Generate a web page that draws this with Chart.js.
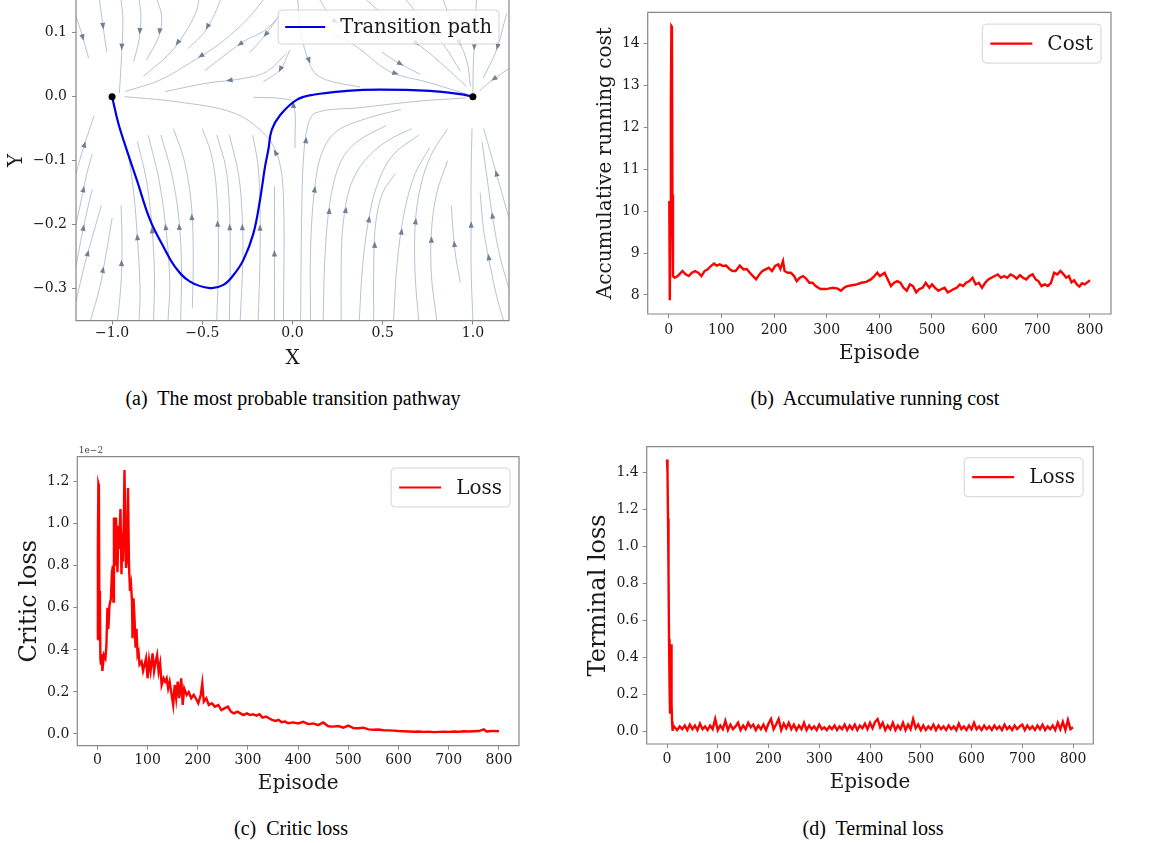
<!DOCTYPE html>
<html>
<head>
<meta charset="utf-8">
<script src="https://cdn.jsdelivr.net/npm/chart.js@4.4.0/dist/chart.umd.min.js"></script>
<style>
  body { margin: 0; background: #fff; width: 1151px; height: 843px; position: relative; overflow: hidden; }
  canvas { position: absolute; }
  .cap { position: absolute; font-family: "Liberation Serif", "Times New Roman", serif; font-size: 20px;
         line-height: 20px; white-space: pre; transform: translateX(-50%); color: #000; }
</style>
</head>
<body>
<canvas id="pathChart" width="530" height="395" style="left:0;top:-20px"></canvas>
<canvas id="costChart" width="561" height="375" style="left:590px;top:0"></canvas>
<canvas id="criticChart" width="560" height="375" style="left:0;top:430px"></canvas>
<canvas id="terminalChart" width="571" height="375" style="left:580px;top:430px"></canvas>

<div class="cap" style="left:293px;top:388px">(a)  The most probable transition pathway</div>
<div class="cap" style="left:875px;top:388px">(b)  Accumulative running cost</div>
<div class="cap" style="left:291px;top:818px">(c)  Critic loss</div>
<div class="cap" style="left:873px;top:818px">(d)  Terminal loss</div>

<script>
// ---- (a) transition path over the streamlines of the drift field ----
const pathX = [-1.000, -0.965, -0.919, -0.863, -0.789, -0.716, -0.651, -0.568, -0.457, -0.383, -0.328,
               -0.272, -0.217, -0.180, -0.152, -0.134, -0.115, -0.069, 0.023, 0.115, 0.300, 0.485,
               0.762, 0.928, 1.000];
const pathY = [0.000, -0.042, -0.083, -0.130, -0.193, -0.234, -0.266, -0.289, -0.299, -0.294, -0.279,
               -0.255, -0.214, -0.161, -0.109, -0.083, -0.052, -0.029, -0.005, 0.003, 0.009, 0.011,
               0.009, 0.004, 0.000];
const stateX = [-1, 1];
const stateY = [0, 0];

// streamlines, each ordered along the flow
const streamlines = [
  [[-1.20,-0.12],[-1.17,-0.09],[-1.13,-0.055],[-1.10,-0.03]],
  [[-1.20,-0.20],[-1.17,-0.16],[-1.14,-0.12],[-1.11,-0.09]],
  [[-1.20,-0.265],[-1.17,-0.22],[-1.14,-0.18],[-1.11,-0.145]],
  [[-1.20,-0.32],[-1.15,-0.26],[-1.10,-0.21],[-1.06,-0.17]],
  [[-1.12,-0.35],[-1.07,-0.30],[-1.03,-0.24],[-1.00,-0.19]],
  [[-0.97,-0.35],[-0.95,-0.29],[-0.945,-0.23],[-0.95,-0.17]],
  [[-0.85,-0.35],[-0.845,-0.30],[-0.86,-0.22],[-0.88,-0.15],[-0.91,-0.09]],
  [[-0.77,-0.35],[-0.765,-0.28],[-0.78,-0.20],[-0.81,-0.13],[-0.86,-0.07]],
  [[-0.69,-0.35],[-0.68,-0.29],[-0.70,-0.21],[-0.74,-0.13],[-0.80,-0.06]],
  [[-0.62,-0.35],[-0.615,-0.27],[-0.63,-0.19],[-0.67,-0.12],[-0.73,-0.06]],
  [[-0.555,-0.33],[-0.55,-0.25],[-0.56,-0.17],[-0.60,-0.10],[-0.66,-0.05]],
  [[-0.42,-0.35],[-0.41,-0.25],[-0.42,-0.15],[-0.45,-0.09],[-0.50,-0.05]],
  [[-0.35,-0.35],[-0.345,-0.25],[-0.35,-0.17],[-0.37,-0.11],[-0.42,-0.06]],
  [[-0.29,-0.35],[-0.275,-0.25],[-0.28,-0.18],[-0.30,-0.12],[-0.35,-0.06]],
  [[-0.19,-0.35],[-0.18,-0.25],[-0.18,-0.17],[-0.19,-0.11],[-0.22,-0.06]],
  [[-0.10,-0.35],[-0.10,-0.24],[-0.10,-0.14]],
  [[-0.05,-0.35],[-0.05,-0.16],[-0.08,-0.094],[-0.16,-0.057],[-0.33,-0.025],[-0.64,-0.008],[-0.93,0.0]],
  [[0.014,-0.08],[0.005,-0.01],[-0.06,-0.003],[-0.217,-0.001]],
  [[0.045,-0.35],[0.05,-0.2],[0.06,-0.1],[0.085,-0.045],[0.13,-0.025],[0.38,-0.017],[0.70,-0.007],[0.96,-0.002]],
  [[0.10,-0.35],[0.10,-0.24],[0.12,-0.15],[0.16,-0.09],[0.24,-0.055],[0.40,-0.035],[0.60,-0.02]],
  [[0.17,-0.35],[0.18,-0.25],[0.21,-0.16],[0.27,-0.10],[0.36,-0.07],[0.52,-0.045]],
  [[0.27,-0.35],[0.27,-0.26],[0.28,-0.20],[0.32,-0.14],[0.40,-0.10],[0.52,-0.07],[0.66,-0.05]],
  [[0.37,-0.35],[0.39,-0.26],[0.43,-0.18],[0.48,-0.13],[0.56,-0.09],[0.70,-0.06]],
  [[0.45,-0.35],[0.45,-0.27],[0.46,-0.20],[0.50,-0.15],[0.57,-0.12]],
  [[0.56,-0.35],[0.58,-0.26],[0.62,-0.18],[0.68,-0.12],[0.76,-0.08]],
  [[0.70,-0.35],[0.68,-0.28],[0.68,-0.20],[0.71,-0.14],[0.77,-0.09],[0.86,-0.05]],
  [[0.80,-0.35],[0.77,-0.28],[0.77,-0.21],[0.80,-0.15],[0.86,-0.10]],
  [[0.93,-0.29],[0.90,-0.24],[0.88,-0.17]],
  [[1.00,-0.35],[0.99,-0.27],[0.99,-0.20],[0.99,-0.12],[0.995,-0.05]],
  [[1.20,-0.19],[1.15,-0.14],[1.10,-0.09],[1.06,-0.05]],
  [[1.20,-0.30],[1.15,-0.25],[1.11,-0.19],[1.08,-0.13],[1.05,-0.07]],
  [[1.17,-0.35],[1.13,-0.31],[1.10,-0.27],[1.06,-0.21],[1.04,-0.15]],
  [[-1.20,0.125],[-1.17,0.10],[-1.13,0.06]],
  [[-1.07,0.151],[-1.055,0.12],[-1.04,0.09],[-1.03,0.07]],
  [[-0.95,0.151],[-0.94,0.12],[-0.95,0.05],[-0.96,0.005]],
  [[-0.85,0.151],[-0.84,0.125],[-0.85,0.09],[-0.88,0.055]],
  [[-0.75,0.151],[-0.725,0.125],[-0.74,0.095],[-0.81,0.057]],
  [[-0.52,0.151],[-0.531,0.135],[-0.586,0.104],[-0.679,0.068],[-0.826,0.032]],
  [[-0.40,0.151],[-0.43,0.13],[-0.49,0.10],[-0.58,0.075]],
  [[-0.162,0.151],[-0.254,0.12],[-0.402,0.083],[-0.549,0.056],[-0.734,0.026],[-0.928,0.008]],
  [[-0.032,0.068],[-0.143,0.039],[-0.282,0.028],[-0.476,0.021],[-0.706,0.008]],
  [[-0.088,0.12],[-0.162,0.102],[-0.272,0.086],[-0.485,0.041]],
  [[-0.069,0.13],[-0.143,0.099],[-0.239,0.068]],
  [[-0.014,0.073],[-0.069,0.042],[-0.162,0.023]],
  [[0.03,0.151],[0.04,0.11],[0.069,0.073],[0.115,0.04],[0.189,0.026],[0.374,0.015]],
  [[0.152,0.151],[0.226,0.12],[0.356,0.094]],
  [[0.226,0.099],[0.356,0.078],[0.54,0.039],[0.743,0.023],[0.965,0.004]],
  [[0.494,0.07],[0.568,0.056],[0.706,0.035]],
  [[0.411,0.151],[0.596,0.104],[0.78,0.063],[0.965,0.016]],
  [[0.63,0.151],[0.72,0.12],[0.84,0.08],[0.93,0.04]],
  [[0.836,0.151],[0.891,0.109],[0.965,0.057],[0.987,0.016]],
  [[1.02,0.151],[1.011,0.099],[1.002,0.047],[1.0,0.005]],
  [[1.187,0.13],[1.131,0.073],[1.057,0.029]],
  [[1.20,0.044],[1.113,0.027],[1.039,0.01]]
];
const pathTicksX = [-1.0, -0.5, 0.0, 0.5, 1.0];
const pathTicksY = [-0.3, -0.2, -0.1, 0.0, 0.1];

// ---- (b) accumulative running cost ----
const costEpisode = [0, 1, 2, 3, 4, 5, 6, 7, 8, 11, 17, 26, 32, 38, 44, 50, 56, 62, 68, 74, 80, 86, 91, 97,
  103, 109, 115, 121, 127, 135, 142, 148, 154, 160, 166, 172, 178, 184, 190, 196, 202, 208, 212, 217,
  220, 226, 232, 238, 243, 249, 255, 261, 267, 273, 279, 288, 297, 303, 312, 321, 327, 333, 339, 348,
  357, 366, 375, 384, 390, 396, 401, 410, 416, 422, 428, 434, 440, 446, 452, 458, 464, 470, 476, 482,
  488, 495, 500, 506, 512, 518, 524, 530, 536, 541, 547, 553, 559, 565, 571, 577, 583, 589, 595, 601,
  607, 613, 619, 625, 631, 637, 643, 649, 655, 661, 667, 673, 679, 685, 691, 697, 702, 708, 714, 720,
  726, 732, 738, 744, 750, 755, 760, 765, 770, 775, 780, 785, 790, 795, 800];
const cost = [10.24, 10.22, 7.87, 9.6, 12.6, 14.42, 14.4, 10.4, 8.45, 8.41, 8.45, 8.57, 8.49, 8.45, 8.53,
  8.57, 8.53, 8.45, 8.57, 8.61, 8.69, 8.75, 8.70, 8.73, 8.69, 8.70, 8.62, 8.57, 8.57, 8.70, 8.61, 8.62,
  8.53, 8.45, 8.37, 8.49, 8.57, 8.61, 8.65, 8.57, 8.69, 8.73, 8.62, 8.81, 8.57, 8.53, 8.53, 8.45, 8.33,
  8.41, 8.45, 8.39, 8.29, 8.29, 8.21, 8.14, 8.14, 8.15, 8.17, 8.15, 8.10, 8.17, 8.21, 8.23, 8.25, 8.29,
  8.31, 8.37, 8.44, 8.53, 8.45, 8.53, 8.37, 8.21, 8.29, 8.33, 8.29, 8.17, 8.10, 8.25, 8.21, 8.06, 8.14,
  8.17, 8.29, 8.17, 8.25, 8.17, 8.10, 8.14, 8.17, 8.06, 8.10, 8.14, 8.17, 8.25, 8.21, 8.29, 8.33, 8.41,
  8.25, 8.29, 8.17, 8.29, 8.37, 8.41, 8.45, 8.49, 8.41, 8.45, 8.41, 8.49, 8.45, 8.39, 8.47, 8.41, 8.37,
  8.45, 8.49, 8.37, 8.33, 8.21, 8.25, 8.21, 8.29, 8.53, 8.49, 8.57, 8.49, 8.41, 8.45, 8.30, 8.35, 8.25,
  8.20, 8.28, 8.25, 8.30, 8.35];
const costTicksY = [8, 9, 10, 11, 12, 13, 14];

// ---- (c) critic loss, in units of 1e-2 ----
const criticEpisode = [0, 1, 2, 3, 4, 5, 6, 7, 8, 9, 10, 13, 16, 18, 20, 22, 24, 27, 29, 31, 32, 33, 35,
  37, 38, 40, 42, 43, 46, 48, 50, 51, 53, 54, 56, 57, 59, 61, 63, 65, 67, 69, 70, 72, 74, 76, 78, 80,
  82, 84, 88, 91, 94, 97, 100, 103, 106, 110, 113, 116, 119, 122, 125, 128, 132, 135, 138, 141, 144,
  148, 151, 154, 157, 160, 163, 167, 170, 173, 178, 182, 187, 192, 196, 201, 206, 209, 212, 217, 222,
  228, 234, 241, 247, 253, 260, 266, 272, 279, 285, 291, 298, 304, 310, 317, 323, 329, 336, 342, 348,
  355, 361, 367, 374, 380, 390, 400, 410, 420, 430, 440, 450, 460, 470, 480, 490, 500, 510, 520, 530,
  540, 550, 560, 570, 580, 590, 600, 610, 620, 630, 640, 650, 660, 670, 680, 690, 700, 710, 720, 730,
  740, 750, 760, 770, 775, 780, 790, 800];
const criticLoss = [0.45, 0.90, 1.19, 1.18, 0.55, 0.68, 0.36, 0.33, 0.38, 0.34, 0.30, 0.376, 0.36, 0.42,
  0.60, 0.50, 0.61, 0.645, 0.77, 0.80, 0.63, 1.03, 0.80, 1.03, 0.96, 0.77, 0.99, 0.88, 1.07, 0.76, 0.96,
  0.82, 1.06, 1.256, 0.915, 0.79, 0.836, 1.17, 0.80, 0.68, 0.71, 0.63, 0.455, 0.645, 0.55, 0.41, 0.50,
  0.376, 0.39, 0.33, 0.344, 0.30, 0.33, 0.36, 0.265, 0.352, 0.30, 0.384, 0.30, 0.344, 0.376, 0.297,
  0.336, 0.233, 0.265, 0.249, 0.265, 0.217, 0.249, 0.186, 0.138, 0.233, 0.17, 0.249, 0.17, 0.265, 0.138,
  0.217, 0.186, 0.20, 0.17, 0.186, 0.17, 0.146, 0.186, 0.241, 0.154, 0.17, 0.138, 0.146, 0.13, 0.138,
  0.114, 0.122, 0.13, 0.106, 0.098, 0.106, 0.098, 0.09, 0.098, 0.09, 0.094, 0.087, 0.094, 0.078, 0.083,
  0.075, 0.067, 0.062, 0.067, 0.056, 0.059, 0.051, 0.055, 0.050, 0.058, 0.047, 0.050, 0.042, 0.055,
  0.037, 0.035, 0.038, 0.030, 0.040, 0.028, 0.027, 0.030, 0.022, 0.020, 0.021, 0.018, 0.017, 0.016,
  0.014, 0.013, 0.012, 0.011, 0.012, 0.010, 0.011, 0.009, 0.010, 0.011, 0.010, 0.012, 0.011, 0.013,
  0.012, 0.013, 0.014, 0.022, 0.012, 0.013, 0.015, 0.013];
const criticTicksY = [0.0, 0.2, 0.4, 0.6, 0.8, 1.0, 1.2];

// ---- (d) terminal loss ----
const terminalEpisode = [0, 1, 2, 3, 4, 5, 6, 7, 8, 9, 10, 11, 12, 15, 20, 25, 30, 35, 40, 45, 50, 55, 60,
  65, 70, 75, 80, 85, 90, 95, 100, 105, 110, 115, 120, 125, 130, 135, 140, 145, 150, 155, 160, 165,
  170, 175, 180, 185, 190, 195, 200, 205, 210, 215, 220, 225, 230, 235, 240, 245, 250, 255, 260, 265,
  270, 275, 280, 285, 290, 295, 300, 305, 310, 315, 320, 325, 330, 335, 340, 345, 350, 355, 360, 365,
  370, 375, 380, 385, 390, 395, 400, 405, 410, 415, 420, 425, 430, 435, 440, 445, 450, 455, 460, 465,
  470, 475, 480, 485, 490, 495, 500, 505, 510, 515, 520, 525, 530, 535, 540, 545, 550, 555, 560, 565,
  570, 575, 580, 585, 590, 595, 600, 605, 610, 615, 620, 625, 630, 635, 640, 645, 650, 655, 660, 665,
  670, 675, 680, 685, 690, 695, 700, 705, 710, 715, 720, 725, 730, 735, 740, 745, 750, 755, 760, 765,
  770, 775, 780, 785, 790, 795, 800];
const terminalLoss = [1.47, 1.40, 1.15, 0.85, 0.50, 0.25, 0.10, 0.12, 0.47, 0.15, 0.05, 0.0, 0.03,
  0.02, 0.005, 0.025, 0.01, 0.03, 0.005, 0.035, 0.01, 0.03, 0.005, 0.04, 0.01, 0.025, 0.005, 0.03, 0.01,
  0.065, 0.005, 0.03, 0.01, 0.055, 0.005, 0.035, 0.01, 0.025, 0.045, 0.005, 0.03, 0.01, 0.045, 0.02,
  0.035, 0.005, 0.03, 0.01, 0.035, 0.005, 0.04, 0.065, 0.01, 0.035, 0.065, 0.005, 0.04, 0.015, 0.045,
  0.01, 0.035, 0.005, 0.03, 0.01, 0.045, 0.005, 0.03, 0.01, 0.025, 0.005, 0.035, 0.01, 0.02, 0.005,
  0.025, 0.01, 0.03, 0.005, 0.025, 0.01, 0.035, 0.005, 0.03, 0.01, 0.035, 0.005, 0.03, 0.015, 0.04,
  0.01, 0.045, 0.015, 0.05, 0.065, 0.02, 0.045, 0.005, 0.03, 0.01, 0.045, 0.005, 0.03, 0.01, 0.045,
  0.005, 0.035, 0.01, 0.065, 0.015, 0.035, 0.005, 0.03, 0.005, 0.025, 0.01, 0.035, 0.005, 0.03, 0.01,
  0.025, 0.005, 0.03, 0.01, 0.025, 0.005, 0.04, 0.01, 0.025, 0.005, 0.03, 0.01, 0.045, 0.01, 0.025,
  0.005, 0.03, 0.01, 0.025, 0.005, 0.03, 0.01, 0.025, 0.005, 0.035, 0.01, 0.025, 0.005, 0.03, 0.01,
  0.025, 0.035, 0.005, 0.03, 0.01, 0.025, 0.005, 0.03, 0.01, 0.035, 0.005, 0.025, 0.01, 0.03, 0.005,
  0.045, 0.01, 0.05, 0.005, 0.06, 0.01, 0.02];
const terminalTicksY = [0.0, 0.2, 0.4, 0.6, 0.8, 1.0, 1.2, 1.4];

const episodeTicks = [0, 100, 200, 300, 400, 500, 600, 700, 800];

// ---- shared styling ----
const INK = '#1a1a1a';
const SPINE = '#888888';
const SERIF = '"DejaVu Serif", serif';

function fmt(v, d) {
  const s = Math.abs(v).toFixed(d);
  return (v < -1e-9 ? '\u2212' : '') + s;
}

function axis(pos, min, max, tickVals, decimals, title, titleSize, titlePad, thick, tickPad) {
  const left = pos === 'left';
  return {
    type: 'linear', position: pos, min: min, max: max,
    afterBuildTicks: a => { a.ticks = tickVals.map(v => ({ value: v })); },
    afterFit: a => { if (left) a.width = thick; else a.height = thick; },
    grid: { drawOnChartArea: false, drawTicks: true, tickLength: 4, color: SPINE, lineWidth: 1 },
    border: { display: false },
    ticks: { font: { family: SERIF, size: 14 }, color: INK, padding: tickPad, autoSkip: false,
             maxRotation: 0, callback: v => fmt(v, decimals) },
    title: { display: true, text: title, color: INK, font: { family: SERIF, size: titleSize },
             padding: left ? { top: titlePad } : { bottom: titlePad } }
  };
}

function framePlugin(hideTop) {
  return {
    id: 'frame',
    afterDatasetsDraw(chart) {
      const { ctx, chartArea: a } = chart;
      ctx.save();
      ctx.strokeStyle = SPINE;
      ctx.lineWidth = 1.2;
      ctx.beginPath();
      if (hideTop) {
        ctx.moveTo(a.left, a.top); ctx.lineTo(a.left, a.bottom);
        ctx.lineTo(a.right, a.bottom); ctx.lineTo(a.right, a.top);
      } else {
        ctx.rect(a.left, a.top, a.right - a.left, a.bottom - a.top);
      }
      ctx.stroke();
      ctx.restore();
    }
  };
}

// boxed legend in the upper right corner of the plot area
function legendPlugin(text, color, lg) {
  return {
    id: 'boxLegend',
    afterDraw(chart) {
      const { ctx, chartArea: a } = chart;
      ctx.save();
      ctx.font = lg.size + 'px ' + SERIF;
      const tw = ctx.measureText(text).width;
      const w = lg.pad + lg.line + lg.gap + tw + lg.pad;
      const x0 = a.right - lg.right - w, y0 = a.top + lg.top, h = lg.h;
      ctx.beginPath();
      ctx.roundRect(x0, y0, w, h, 4);
      ctx.fillStyle = 'rgba(255,255,255,0.8)';
      ctx.fill();
      ctx.strokeStyle = '#d4d4d4';
      ctx.lineWidth = 1;
      ctx.stroke();
      ctx.beginPath();
      ctx.moveTo(x0 + lg.pad, y0 + h / 2);
      ctx.lineTo(x0 + lg.pad + lg.line, y0 + h / 2);
      ctx.strokeStyle = color;
      ctx.lineWidth = 2.2;
      ctx.stroke();
      ctx.fillStyle = INK;
      ctx.textBaseline = 'middle';
      ctx.fillText(text, x0 + lg.pad + lg.line + lg.gap, y0 + h / 2 + 1);
      ctx.restore();
    }
  };
}

// arrow head at the middle of each streamline, pointing along the flow
const arrowPlugin = {
  id: 'streamArrows',
  afterDatasetDraw(chart, args) {
    const ds = chart.data.datasets[args.index];
    if (!ds.stream) return;
    const pts = args.meta.data.map(p => [p.x, p.y]);
    let total = 0;
    const seg = [];
    for (let i = 1; i < pts.length; i++) {
      const l = Math.hypot(pts[i][0] - pts[i - 1][0], pts[i][1] - pts[i - 1][1]);
      seg.push(l); total += l;
    }
    let half = total / 2, i = 0;
    while (i < seg.length - 1 && half > seg[i]) { half -= seg[i]; i++; }
    const t = seg[i] ? half / seg[i] : 0;
    const [xa, ya] = pts[i], [xb, yb] = pts[i + 1];
    const cx = xa + (xb - xa) * t, cy = ya + (yb - ya) * t;
    const ang = Math.atan2(yb - ya, xb - xa);
    const { ctx } = chart;
    ctx.save();
    ctx.translate(cx, cy);
    ctx.rotate(ang);
    ctx.beginPath();
    ctx.moveTo(3.5, 0);
    ctx.lineTo(-3, 2.6);
    ctx.lineTo(-3, -2.6);
    ctx.closePath();
    ctx.fillStyle = '#6e8096';
    ctx.fill();
    ctx.restore();
  }
};

function baseOptions(pad, scales) {
  return {
    responsive: false, animation: false, devicePixelRatio: 1,
    layout: { autoPadding: false, padding: pad },
    plugins: { legend: { display: false }, tooltip: { enabled: false } },
    scales: scales
  };
}

// ---- (a) ----
const pathDatasets = [
  { data: stateX.map((x, i) => ({ x: x, y: stateY[i] })), showLine: false, pointRadius: 3.5,
    pointBackgroundColor: '#000', pointBorderWidth: 0, order: 0 },
  { data: pathX.map((x, i) => ({ x: x, y: pathY[i] })), showLine: true, borderColor: '#0000e6',
    borderWidth: 2.2, pointRadius: 0, tension: 0.4, order: 1 }
];
streamlines.forEach(s => pathDatasets.push({
  stream: true, data: s.map(p => ({ x: p[0], y: p[1] })), showLine: true,
  borderColor: 'rgba(130,148,170,0.7)', borderWidth: 0.8, pointRadius: 0, tension: 0.35, order: 2
}));

new Chart(document.getElementById('pathChart'), {
  type: 'scatter',
  data: { datasets: pathDatasets },
  options: baseOptions({ top: 20, right: 21, left: 0, bottom: 0 }, {
    x: axis('bottom', -1.2, 1.2, pathTicksX, 1, 'X', 20, 4, 54.3, 0),
    y: axis('left', -0.35, 0.151, pathTicksY, 1, 'Y', 20, 5, 76, 5)
  }),
  plugins: [arrowPlugin, framePlugin(true),
            legendPlugin('Transition path', '#0000e6', { size: 19.5, h: 34, pad: 7, line: 40, gap: 15, right: 10, top: 10 })]
});

// ---- (b), (c), (d) ----
function seriesChart(id, xs, ys, o) {
  return new Chart(document.getElementById(id), {
    type: 'line',
    data: { datasets: [{ data: xs.map((x, i) => ({ x: x, y: ys[i] })), borderColor: '#ff0000',
                         borderWidth: 2.4, pointRadius: 0, tension: 0 }] },
    options: baseOptions(o.pad, {
      x: axis('bottom', -40, 840, episodeTicks, 0, 'Episode', 20, o.xTitlePad, o.xThick, o.xTickPad),
      y: axis('left', o.yMin, o.yMax, o.yTicks, o.yDec, o.yTitle, o.yTitleSize, o.yTitlePad, o.yThick, 4)
    }),
    plugins: [framePlugin(false),
              legendPlugin(o.legend, '#ff0000', { size: 20, h: 39, pad: 8, line: 42, gap: 15, right: o.legRight, top: o.legTop })]
      .concat(o.extra || [])
  });
}

seriesChart('costChart', costEpisode, cost, {
  pad: { top: 11, right: 40, left: 0, bottom: 0 },
  xThick: 61, xTitlePad: 9.7, xTickPad: 3.6,
  yMin: 7.544, yMax: 14.747, yTicks: costTicksY, yDec: 0,
  yTitle: 'Accumulative running cost', yTitleSize: 20, yTitlePad: 4, yThick: 57.7,
  legend: 'Cost', legRight: 10, legTop: 11.7
});

const offsetText = {
  id: 'offsetText',
  afterDraw(chart) {
    const { ctx, chartArea: a } = chart;
    ctx.save();
    ctx.font = '9px ' + SERIF;
    ctx.fillStyle = '#444';
    ctx.textBaseline = 'alphabetic';
    ctx.fillText('1e\u22122', a.left + 1.5, a.top - 3.5);
    ctx.restore();
  }
};

seriesChart('criticChart', criticEpisode, criticLoss, {
  pad: { top: 26.7, right: 41, left: 0, bottom: 0 },
  xThick: 59.3, xTitlePad: 9.7, xTickPad: 2.6,
  yMin: -0.0557, yMax: 1.319, yTicks: criticTicksY, yDec: 1,
  yTitle: 'Critic loss', yTitleSize: 24, yTitlePad: 15.6, yThick: 77.3,
  legend: 'Loss', legRight: 9, legTop: 11.3, extra: [offsetText]
});

seriesChart('terminalChart', terminalEpisode, terminalLoss, {
  pad: { top: 16.7, right: 57.7, left: 0, bottom: 0 },
  xThick: 61, xTitlePad: 10.3, xTickPad: 2.9,
  yMin: -0.0703, yMax: 1.539, yTicks: terminalTicksY, yDec: 1,
  yTitle: 'Terminal loss', yTitleSize: 24, yTitlePad: 4, yThick: 66.7,
  legend: 'Loss', legRight: 10.3, legTop: 11
});
</script>
</body>
</html>
